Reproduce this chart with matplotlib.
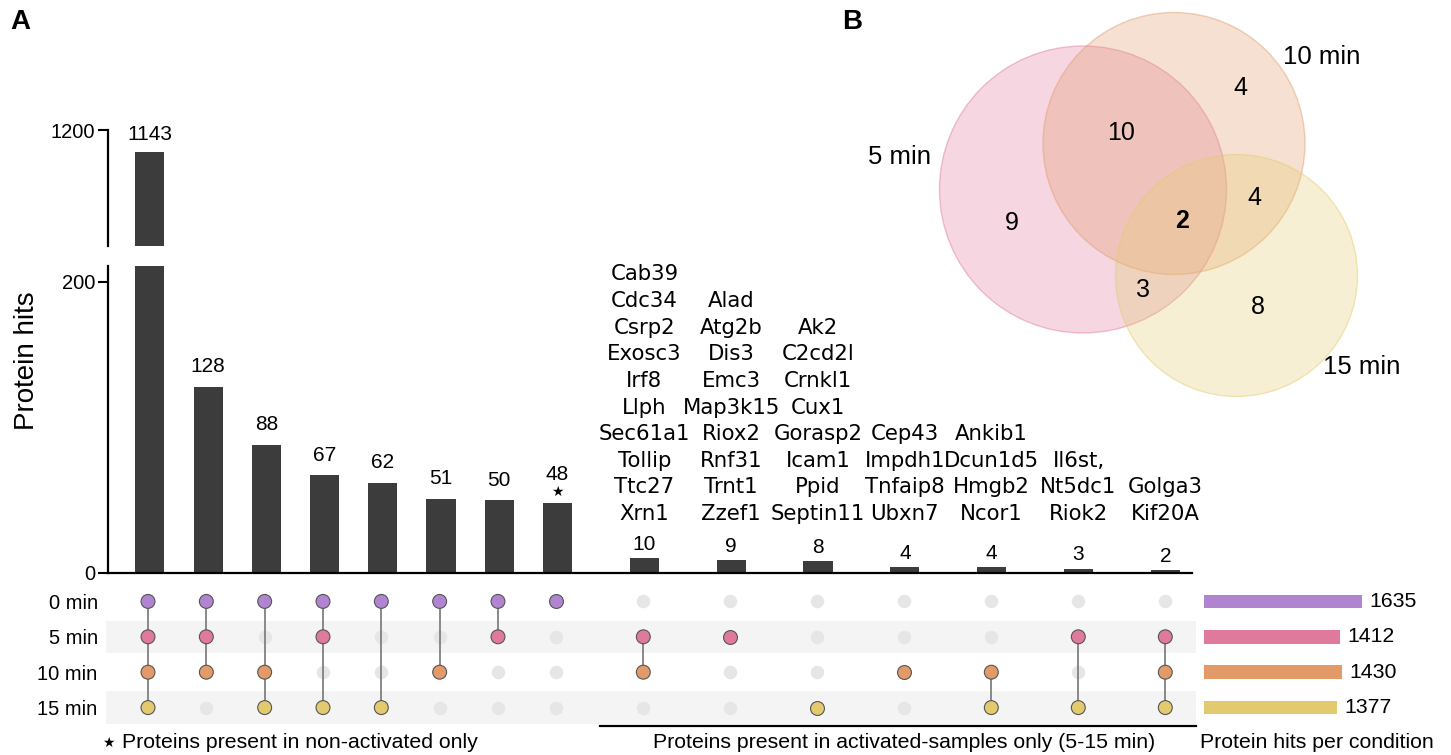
import matplotlib
matplotlib.use("Agg")
import matplotlib.pyplot as plt
from matplotlib.patches import Circle
from matplotlib.transforms import blended_transform_factory

plt.rcParams['font.family'] = ['Liberation Sans', 'DejaVu Sans']

# --- data -------------------------------------------------------------
# UpSet columns: intersection size and which conditions are present
counts = [1143, 128, 88, 67, 62, 51, 50, 48, 10, 9, 8, 4, 4, 3, 2]
members = [(0, 1, 2, 3), (0, 1, 2), (0, 2, 3), (0, 1, 3), (0, 3), (0, 2), (0, 1), (0,),
           (1, 2), (1,), (3,), (2,), (2, 3), (1, 3), (1, 2, 3)]
n_nonact = 8  # first 8 columns contain 0 min

conditions = ['0 min', '5 min', '10 min', '15 min']
totals = [1635, 1412, 1430, 1377]
cond_colors = ['#b084d1', '#e07a9c', '#e29a69', '#e4ca6e']

genes = [
    ['Cab39', 'Cdc34', 'Csrp2', 'Exosc3', 'Irf8', 'Llph', 'Sec61a1', 'Tollip', 'Ttc27', 'Xrn1'],
    ['Alad', 'Atg2b', 'Dis3', 'Emc3', 'Map3k15', 'Riox2', 'Rnf31', 'Trnt1', 'Zzef1'],
    ['Ak2', 'C2cd2l', 'Crnkl1', 'Cux1', 'Gorasp2', 'Icam1', 'Ppid', 'Septin11'],
    ['Cep43', 'Impdh1', 'Tnfaip8', 'Ubxn7'],
    ['Ankib1', 'Dcun1d5', 'Hmgb2', 'Ncor1'],
    ['Il6st,', 'Nt5dc1', 'Riok2'],
    ['Golga3', 'Kif20A'],
]

# Venn of the activated samples
venn_sets = ['5 min', '10 min', '15 min']
venn_regions = ['5', '10', '15', '5&10', '5&15', '10&15', '5&10&15']
venn_values = [9, 4, 8, 10, 3, 4, 2]

# --- layout helpers ----------------------------------------------------
W, H = 1451, 755
fig = plt.figure(figsize=(W / 100, H / 100), dpi=100)


def px_rect(x0, y0, x1, y1):
    return [x0 / W, 1 - y1 / H, (x1 - x0) / W, (y1 - y0) / H]


step2 = 1.4915
xs = [float(i) for i in range(n_nonact)] + \
     [n_nonact - 1 + step2 * k for k in range(1, len(counts) - n_nonact + 1)]
unit = 58.33
x0px = 148
xlim = ((106 - x0px) / unit, (1196 - x0px) / unit)
bar_w = 0.5
bar_c = '#3c3c3c'

ax_top = fig.add_axes(px_rect(108, 130, 1196, 246))
ax_bot = fig.add_axes(px_rect(108, 266, 1196, 573))
ax_mat = fig.add_axes(px_rect(106, 583, 1196, 726))
ax_hb = fig.add_axes(px_rect(1204, 583, 1416.6, 726))
ax_venn = fig.add_axes(px_rect(840, 0, 1451, 420))

# --- bars --------------------------------------------------------------
for ax in (ax_top, ax_bot):
    ax.bar(xs, counts, width=bar_w, color=bar_c)
    ax.set_xlim(*xlim)
    for s in ('top', 'right'):
        ax.spines[s].set_visible(False)
    ax.spines['left'].set_linewidth(1.6)
    ax.tick_params(axis='y', length=7, width=1.5, labelsize=14.5, pad=2)
    ax.set_xticks([])

ax_top.set_ylim(902, 1200)
ax_top.set_yticks([1200])
ax_top.spines['bottom'].set_visible(False)
ax_bot.set_ylim(0, 210.8)
ax_bot.set_yticks([0, 200])
ax_bot.spines['bottom'].set_linewidth(1.6)
ax_bot.spines['bottom'].set_bounds(xlim[0], 17.9)

# count labels
ax_top.annotate(str(counts[0]), (xs[0], counts[0]), xytext=(0, 13), textcoords='offset points',
                ha='center', va='center', fontsize=15)
for i in range(1, len(counts)):
    off = 14.5 if i < n_nonact else 10
    if i == n_nonact - 1:
        ax_bot.annotate('★', (xs[i], counts[i]), xytext=(0, 8), textcoords='offset points',
                        ha='center', va='center', fontsize=10, family='DejaVu Sans')
        off = 20.5
    ax_bot.annotate(str(counts[i]), (xs[i], counts[i]), xytext=(0, off), textcoords='offset points',
                    ha='center', va='center', fontsize=15)

# gene lists above the activated-only columns
tr = blended_transform_factory(ax_bot.transData, fig.transFigure)
for k, g in enumerate(genes):
    ax_bot.text(xs[n_nonact + k], 1 - 524 / H, '\n'.join(g), transform=tr, ha='center',
                va='bottom', multialignment='center', fontsize=15.3, family='DejaVu Sans',
                linespacing=1.414)

fig.text(27 / W, 1 - 361 / H, 'Protein hits', rotation=90, ha='center', va='center', fontsize=20)

# --- matrix ------------------------------------------------------------
ax_mat.set_xlim(*xlim)
ax_mat.set_ylim(3.52, -0.52)
for r in range(len(conditions)):
    if r % 2 == 1:
        ax_mat.axhspan(r - 0.46, r + 0.46, color='#f4f4f4', lw=0, zorder=0)
for x, m in zip(xs, members):
    empty = [r for r in range(len(conditions)) if r not in m]
    ax_mat.scatter([x] * len(empty), empty, s=95, color='#e6e6e6', lw=0, zorder=2)
    if len(m) > 1:
        ax_mat.plot([x, x], [min(m), max(m)], color='#808080', lw=1.3, zorder=3)
    ax_mat.scatter([x] * len(m), list(m), s=100, c=[cond_colors[r] for r in m],
                   edgecolors='#555555', linewidths=0.8, zorder=4)
ax_mat.set_yticks(range(len(conditions)))
ax_mat.set_yticklabels(conditions, fontsize=14.5)
ax_mat.tick_params(axis='y', length=0, pad=6)
ax_mat.set_xticks([])
for s in ax_mat.spines.values():
    s.set_visible(False)
split = (xs[n_nonact - 1] + xs[n_nonact]) / 2
ax_mat.plot([split, xlim[1]], [3.52, 3.52], color='black', lw=1.6, clip_on=False)

# --- per-condition totals ----------------------------------------------
ax_hb.barh(range(len(conditions)), totals, height=0.38, color=cond_colors)
ax_hb.set_ylim(3.52, -0.52)
ax_hb.set_xlim(0, 2200)
ax_hb.axis('off')
for r, t in enumerate(totals):
    ax_hb.annotate(str(t), (t, r), xytext=(5, 0), textcoords='offset points',
                   ha='left', va='center', fontsize=15.3)

# --- Venn --------------------------------------------------------------
ax_venn.set_xlim(840, 1451)
ax_venn.set_ylim(420, 0)
ax_venn.axis('off')
circles = [(1083, 189.5, 143.5), (1174, 143.5, 131), (1236.5, 275.5, 121)]
venn_colors = [cond_colors[1], cond_colors[2], cond_colors[3]]
for (cx, cy, rad), c in zip(circles, venn_colors):
    ax_venn.add_patch(Circle((cx, cy), rad, facecolor=c, alpha=0.3, edgecolor='none'))
    ax_venn.add_patch(Circle((cx, cy), rad, facecolor='none', edgecolor=c, alpha=0.45, lw=1))
region_pos = {'5': (1012, 223), '10': (1240, 88), '15': (1258, 307), '5&10': (1121, 133),
              '5&15': (1143, 290), '10&15': (1254, 198), '5&10&15': (1182, 221)}
for reg, v in zip(venn_regions, venn_values):
    ax_venn.text(*region_pos[reg], str(v), ha='center', va='center', fontsize=18,
                 fontweight='bold' if reg == '5&10&15' else 'normal')
label_pos = [(900, 157), (1322, 57), (1362, 367)]
for lab, p in zip(venn_sets, label_pos):
    ax_venn.text(*p, lab, ha='center', va='center', fontsize=18.5)

# --- panel letters and footers -----------------------------------------
fig.text(10 / W, 1 - 22 / H, 'A', fontsize=20, fontweight='bold', va='center')
fig.text(842 / W, 1 - 22 / H, 'B', fontsize=20, fontweight='bold', va='center')
fig.text(108 / W, 1 - 743 / H, '★', fontsize=10, family='DejaVu Sans', va='center', ha='center')
fig.text(122 / W, 1 - 743 / H, 'Proteins present in non-activated only', fontsize=15.3, va='center')
fig.text(904 / W, 1 - 743 / H, 'Proteins present in activated-samples only (5-15 min)',
         fontsize=15.3, va='center', ha='center')
fig.text(1200 / W, 1 - 743 / H, 'Protein hits per condition', fontsize=15.3, va='center')

fig.savefig('out.png', dpi=100)
